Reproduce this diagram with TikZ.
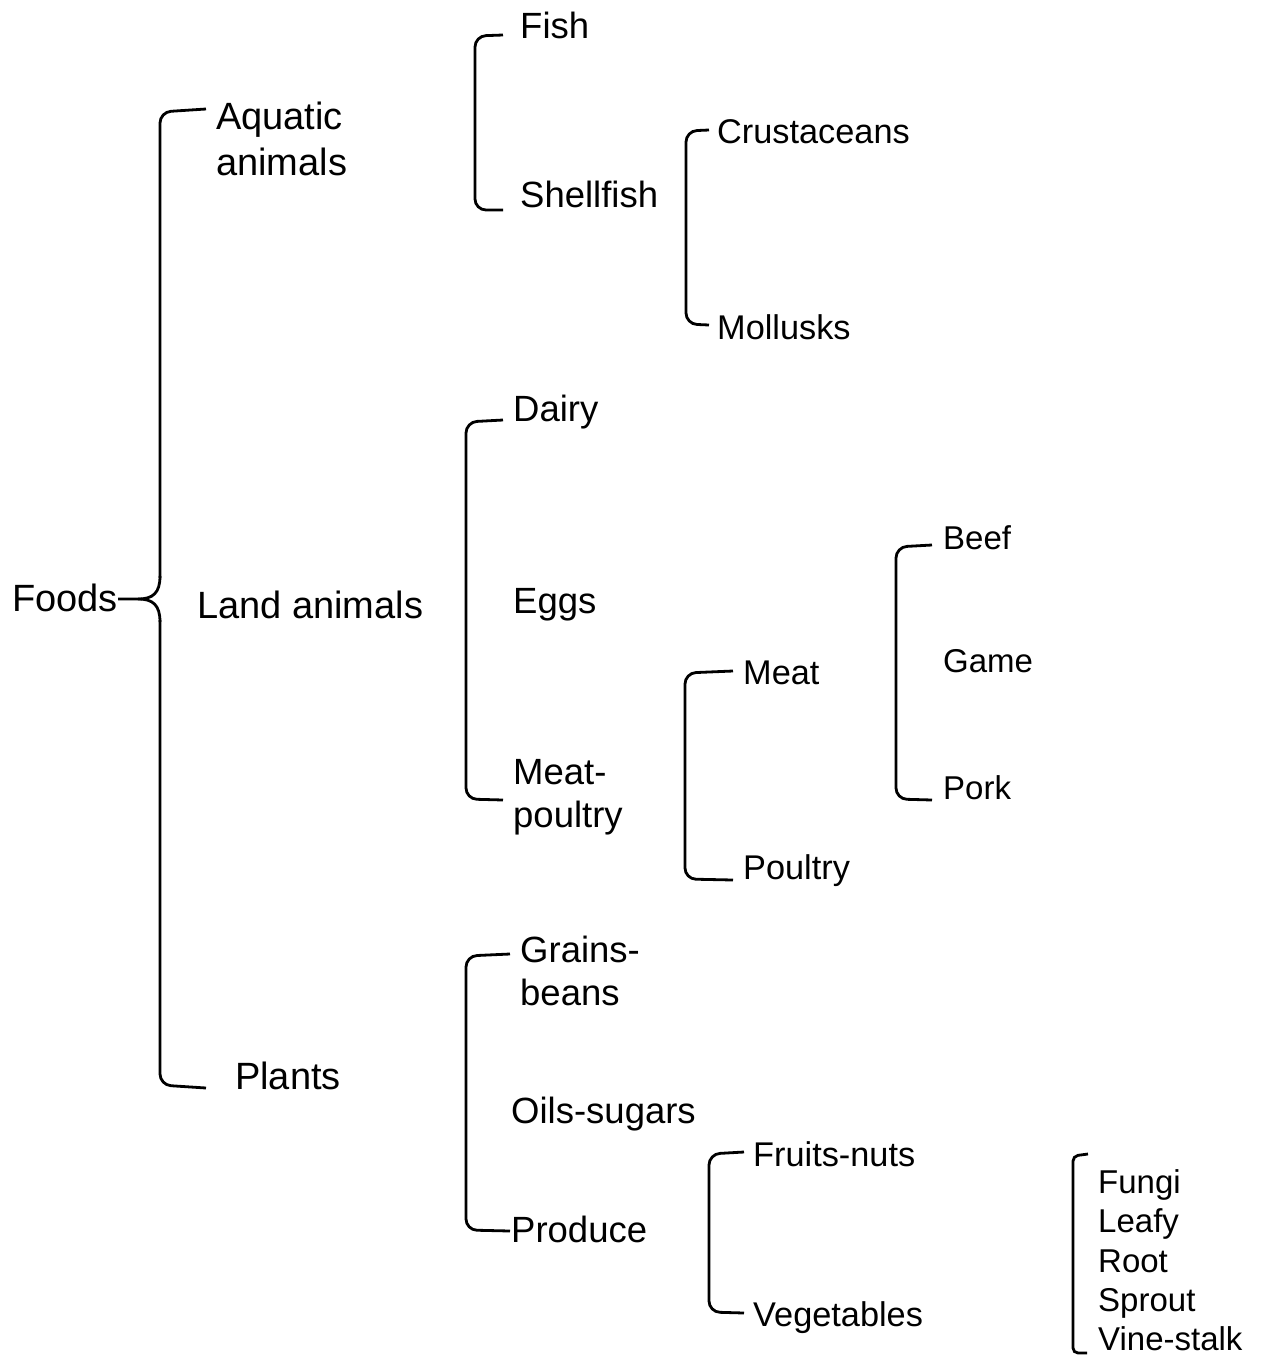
\documentclass[tikz,border=0pt]{standalone}
\usepackage{fontspec}
\setmainfont{Liberation Sans}
\begin{document}
\begin{tikzpicture}[x=1pt,y=-1pt,
  brk/.style={line width=2.8pt, rounded corners=11pt},
  lA/.style={inner sep=0pt, anchor=base west, font=\fontsize{38}{44}\selectfont},
  lB/.style={inner sep=0pt, anchor=base west, font=\fontsize{36.5}{42}\selectfont},
  lC/.style={inner sep=0pt, anchor=base west, font=\fontsize{34.3}{40}\selectfont},
  lD/.style={inner sep=0pt, anchor=base west, font=\fontsize{33}{39}\selectfont}]
\useasboundingbox (0,0) rectangle (1263,1355);
% level 1
\node[lA] (foods) at (12,611) {Foods};
\node[lA] (aquatic) at (216,129) {Aquatic};
\node[lA] (aquatic2) at (216,175) {animals};
\node[lA] (land) at (197,618) {Land animals};
\node[lA] (plants) at (235,1089) {Plants};
% level 2
\node[lB] (fish) at (520,38) {Fish};
\node[lB] (shellfish) at (520,207) {Shellfish};
\node[lB] (dairy) at (513,421) {Dairy};
\node[lB] (eggs) at (513,613) {Eggs};
\node[lB] (meatp) at (513,784) {Meat-};
\node[lB] (meatp2) at (513,827) {poultry};
\node[lB] (grains) at (520,962) {Grains-};
\node[lB] (grains2) at (520,1005) {beans};
\node[lB] (oils) at (511,1123) {Oils-sugars};
\node[lB] (produce) at (511,1242) {Produce};
% level 3
\node[lC] (crust) at (717,143) {Crustaceans};
\node[lC] (moll) at (717,339) {Mollusks};
\node[lC] (meat) at (743,684) {Meat};
\node[lC] (poultry) at (743,879) {Poultry};
\node[lC] (fruits) at (753,1166) {Fruits-nuts};
\node[lC] (veg) at (753,1326) {Vegetables};
% level 4
\node[lD] (beef) at (943,549) {Beef};
\node[lD] (game) at (943,672) {Game};
\node[lD] (pork) at (943,799) {Pork};
\node[lD] (fungi) at (1098,1193) {Fungi};
\node[lD] (leafy) at (1098,1232) {Leafy};
\node[lD] (root) at (1098,1272) {Root};
\node[lD] (sprout) at (1098,1311) {Sprout};
\node[lD] (vine) at (1098,1350) {Vine-stalk};
% brackets
\coordinate (tip) at (138,599);
\draw[brk] (206,109) -- (160,112) -- (160,578);
\draw[line width=2.8pt, line join=round] (160,576) .. controls (160,593) and (153,599) .. (tip)
   -- (foods.east |- tip);
\draw[line width=2.8pt, line join=round] (tip) .. controls (153,599) and (160,605) .. (160,622);
\draw[brk] (160,620) -- (160,1085) -- (206,1088);
\draw[brk] (503,35) -- (475,36) -- (475,210) -- (503,210);
\draw[brk] (709,130) -- (686,131) -- (686,324) -- (709,325);
\draw[brk] (503,420) -- (466,422) -- (466,799) -- (503,800);
\draw[brk] (733,671) -- (685,673) -- (685,879) -- (733,880);
\draw[brk] (932,545) -- (896,547) -- (896,799) -- (932,800);
\draw[brk] (510,954) -- (466,956) -- (466,1230) -- (510,1231);
\draw[brk] (744,1152) -- (709,1154) -- (709,1312) -- (744,1313);
\draw[line width=2.8pt, rounded corners=5pt] (1088,1154) -- (1073,1156) -- (1073,1353) -- (1087,1353);
\end{tikzpicture}
\end{document}
